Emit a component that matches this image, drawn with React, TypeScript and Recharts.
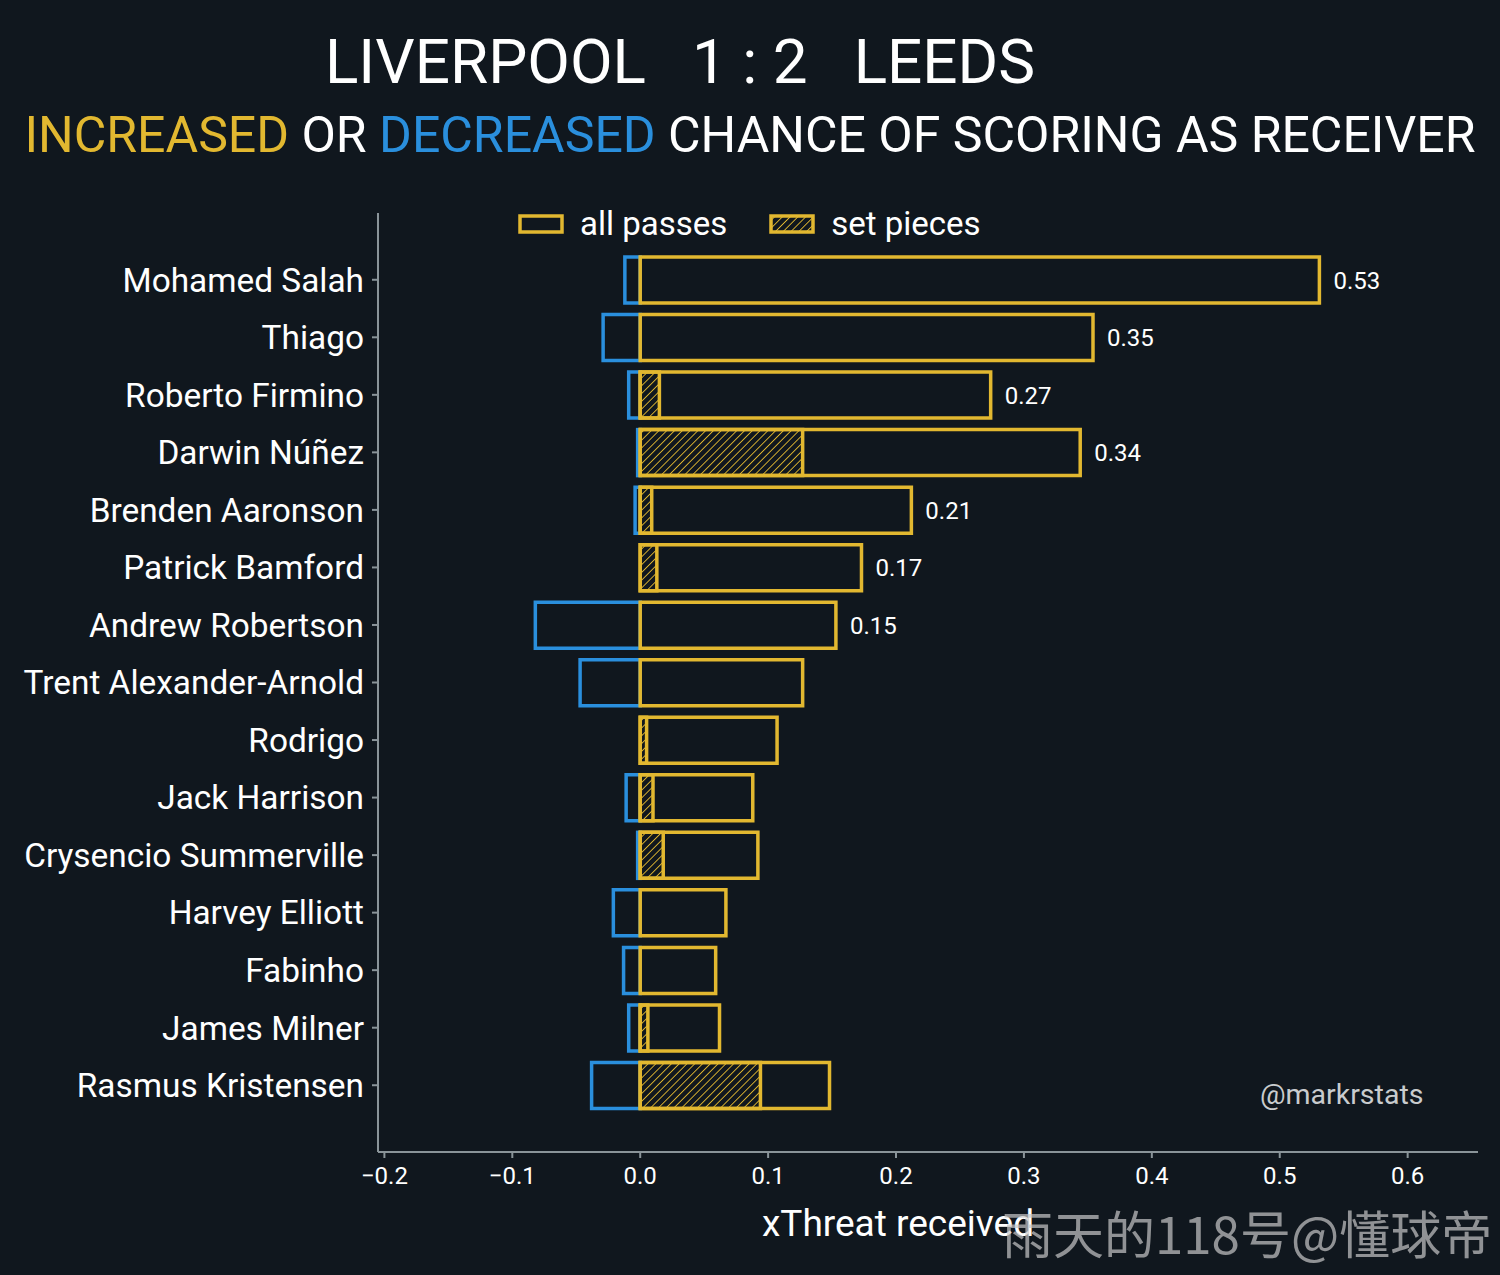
import React from 'react';
import {
  BarChart,
  Bar,
  XAxis,
  YAxis,
  LabelList,
} from 'recharts';

const players = [
  'Mohamed Salah',
  'Thiago',
  'Roberto Firmino',
  'Darwin Núñez',
  'Brenden Aaronson',
  'Patrick Bamford',
  'Andrew Robertson',
  'Trent Alexander-Arnold',
  'Rodrigo',
  'Jack Harrison',
  'Crysencio Summerville',
  'Harvey Elliott',
  'Fabinho',
  'James Milner',
  'Rasmus Kristensen',
];

// positive part of xThreat received (all passes)
const allPasses = [0.531, 0.354, 0.274, 0.344, 0.212, 0.173, 0.153, 0.127, 0.107, 0.088, 0.092, 0.067, 0.059, 0.062, 0.148];
// negative part
const decreased = [-0.012, -0.029, -0.009, -0.002, -0.004, null, -0.082, -0.047, null, -0.011, -0.002, -0.021, -0.013, -0.009, -0.038];
// set pieces share
const setPieces = [null, null, 0.015, 0.127, 0.009, 0.013, null, null, 0.005, 0.010, 0.018, null, null, 0.006, 0.094];
// labels shown next to the bars
const valueLabels = ['0.53', '0.35', '0.27', '0.34', '0.21', '0.17', '0.15', null, null, null, null, null, null, null, null];

const xTicks = [-0.2, -0.1, 0.0, 0.1, 0.2, 0.3, 0.4, 0.5, 0.6];

const BG = '#10171e';
const GOLD = '#e2b830';
const BLUE = '#2a8fdd';
const AXIS = '#8a9499';
const FONT = 'Roboto, sans-serif';

const data = players.map((name, i) => ({
  name,
  all: allPasses[i],
  neg: decreased[i],
  sp: setPieces[i],
  label: valueLabels[i],
}));

function LegendBox() {
  return (
    <div
      style={{
        position: 'absolute',
        top: 202,
        left: 518,
        display: 'flex',
        alignItems: 'center',
        fontFamily: FONT,
        fontSize: 33,
        color: '#ffffff',
        lineHeight: '44px',
      }}
    >
      <svg width={46} height={20} style={{ marginRight: 16 }}>
        <rect x={2} y={2} width={42} height={16} fill="none" stroke={GOLD} strokeWidth={3.5} />
      </svg>
      <span style={{ marginRight: 42 }}>all passes</span>
      <svg width={46} height={20} style={{ marginRight: 16 }}>
        <rect x={2} y={2} width={42} height={16} fill="url(#hatch)" stroke={GOLD} strokeWidth={3.5} />
      </svg>
      <span>set pieces</span>
    </div>
  );
}

export default function App() {
  return (
    <div
      style={{
        position: 'absolute',
        top: 0,
        left: 0,
        width: 1500,
        height: 1275,
        background: BG,
        fontFamily: FONT,
        overflow: 'hidden',
      }}
    >
      <svg width={0} height={0} style={{ position: 'absolute' }}>
        <defs>
          <pattern id="hatch" patternUnits="userSpaceOnUse" width={5.5} height={5.5} patternTransform="rotate(45)">
            <rect width={5.5} height={5.5} fill={BG} />
            <line x1={0} y1={0} x2={0} y2={5.5} stroke={GOLD} strokeWidth={1.8} />
          </pattern>
        </defs>
      </svg>

      <div
        style={{
          position: 'absolute',
          top: 20,
          left: 0,
          width: 1360,
          textAlign: 'center',
          color: '#ffffff',
          fontSize: 62,
          whiteSpace: 'pre',
          lineHeight: '84px',
        }}
      >
        {'LIVERPOOL   1 : 2   LEEDS'}
      </div>
      <div
        style={{
          position: 'absolute',
          top: 100,
          left: 0,
          width: 1500,
          textAlign: 'center',
          color: '#ffffff',
          fontSize: 50,
          whiteSpace: 'pre',
          lineHeight: '70px',
        }}
      >
        <span style={{ color: GOLD }}>INCREASED</span>
        {' OR '}
        <span style={{ color: BLUE }}>DECREASED</span>
        {' CHANCE OF SCORING AS RECEIVER'}
      </div>

      <div style={{ position: 'absolute', top: 0, left: 0 }}>
        <BarChart
          width={1500}
          height={1275}
          data={data}
          layout="vertical"
          margin={{ top: 213, right: 22, bottom: 63, left: 8 }}
          barSize={46}
          barGap={-46}
        >
          <XAxis
            type="number"
            domain={[-0.205, 0.655]}
            ticks={xTicks}
            tickFormatter={(v: number) => (v < 0 ? '\u2212' + Math.abs(v).toFixed(1) : v.toFixed(1))}
            stroke={AXIS}
            strokeWidth={2}
            tick={{ fill: '#ffffff', fontSize: 24, fontFamily: FONT }}
            tickSize={6}
            tickMargin={9}
            height={60}
            allowDataOverflow
          />
          <YAxis
            type="category"
            dataKey="name"
            width={370}
            stroke={AXIS}
            strokeWidth={2}
            tick={{ fill: '#ffffff', fontSize: 33.4, fontFamily: FONT }}
            tickSize={6}
            tickMargin={8}
            padding={{ top: 38, bottom: 38 }}
            interval={0}
          />
          <Bar dataKey="neg" fill="none" stroke={BLUE} strokeWidth={3.5} isAnimationActive={false} />
          <Bar dataKey="sp" fill="url(#hatch)" stroke={GOLD} strokeWidth={3.5} isAnimationActive={false} />
          <Bar dataKey="all" fill="none" stroke={GOLD} strokeWidth={3.5} isAnimationActive={false}>
            <LabelList dataKey="label" position="right" offset={14} fill="#ffffff" fontSize={24} fontFamily={FONT} />
          </Bar>
        </BarChart>
      </div>

      <LegendBox />

      <div
        style={{
          position: 'absolute',
          top: 1200,
          left: 898,
          transform: 'translateX(-50%)',
          color: '#ffffff',
          fontSize: 37,
          whiteSpace: 'pre',
          lineHeight: '48px',
        }}
      >
        xThreat received
      </div>
      <div
        style={{
          position: 'absolute',
          top: 1078,
          left: 1260,
          color: '#c9ccce',
          fontSize: 28.5,
        }}
      >
        @markrstats
      </div>
      <div
        style={{
          position: 'absolute',
          top: 1202,
          left: 1002,
          color: 'rgba(200,200,200,0.7)',
          fontSize: 51,
          fontFamily: '"Noto Sans CJK SC", sans-serif',
          whiteSpace: 'pre',
          lineHeight: '60px',
        }}
      >
        雨天的118号@懂球帝
      </div>
    </div>
  );
}
